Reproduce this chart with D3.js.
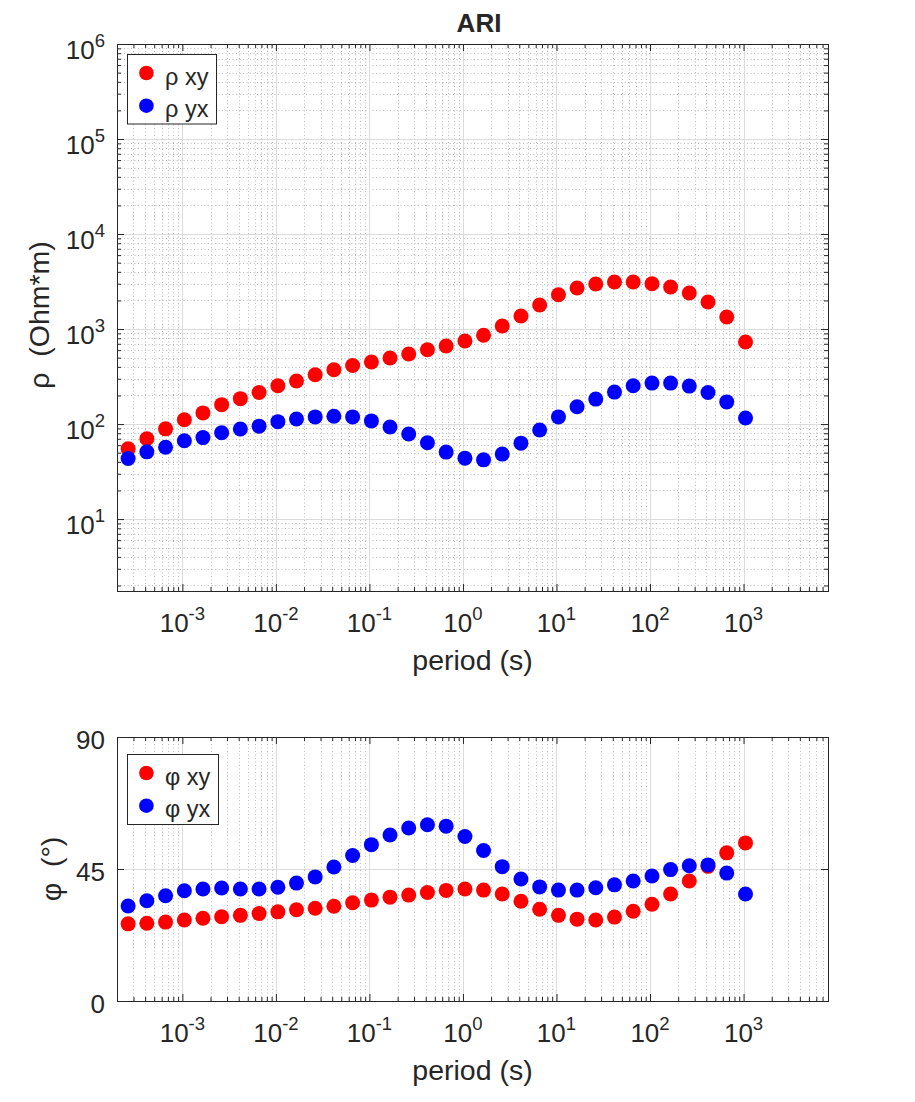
<!DOCTYPE html>
<html>
<head>
<meta charset="utf-8">
<script src="https://cdn.jsdelivr.net/npm/d3@7"></script>
<style>
  body { margin: 0; background: #fff; }
  text { font-family: "Liberation Sans", Arial, Helvetica, sans-serif; fill: #262626; }
</style>
</head>
<body>
<script>
/*Chart data*/
var periods = [2.63e-4, 4.17e-4, 6.61e-4, 1.05e-3, 1.66e-3, 2.63e-3, 4.17e-3, 6.61e-3,
    1.05e-2, 1.66e-2, 2.63e-2, 4.17e-2, 6.61e-2, 0.105, 0.166, 0.263, 0.417, 0.661,
    1.05, 1.66, 2.63, 4.17, 6.61, 10.5, 16.6, 26.3, 41.7, 66.1, 105, 166, 263, 417, 661, 1050];
var rhoXY = [55, 70, 89, 111, 131, 160, 185, 215, 253, 284, 330, 373, 414, 450, 496, 546, 605,
    662, 748, 860, 1076, 1370, 1790, 2297, 2700, 2980, 3126, 3126, 3000, 2768, 2394, 1923, 1338, 730];
var rhoYX = [43.4, 51, 57, 66.7, 72, 81, 88.6, 95, 106, 113, 119, 121, 119, 108, 93, 78.5, 63.6,
    50.7, 43.8, 42, 48.3, 63, 86.5, 119, 152, 183, 217, 253, 270, 270, 251, 215, 171, 116];
var phiXY = [26.3, 26.5, 26.9, 27.6, 28.2, 28.7, 29.2, 29.8, 30.4, 31.1, 31.6, 32.3, 33.5, 34.4,
    35.4, 36.1, 37.0, 37.7, 38.2, 37.8, 36.5, 34.0, 31.3, 29.2, 27.9, 27.6, 28.6, 30.6, 33.0, 36.5,
    40.9, 45.9, 50.5, 53.9];
var phiYX = [32.4, 34.2, 35.9, 37.6, 38.2, 38.5, 38.2, 38.2, 38.8, 40.2, 42.3, 45.7, 49.6, 53.3,
    56.6, 59.0, 60.1, 59.6, 56.1, 51.3, 45.8, 41.6, 38.9, 37.8, 37.8, 38.6, 39.6, 40.9, 42.6, 44.8,
    46.1, 46.4, 43.6, 36.5];

var xExponents = [-3, -2, -1, 0, 1, 2, 3];
var rhoExponents = [1, 2, 3, 4, 5, 6];
var phiTicks = [0, 45, 90];
var rhoNames = ["\u03c1 xy", "\u03c1 yx"];
var phiNames = ["\u03c6 xy", "\u03c6 yx"];
var colors = ["#ff0000", "#0000ff"];

var svg = d3.select("body").append("svg")
    .attr("width", 915)
    .attr("height", 1102);

var x = d3.scaleLog().domain([2e-4, 8e3]).range([117, 828]);
var yRho = d3.scaleLog().domain([1.75, 1e6]).range([591, 44]);
var yPhi = d3.scaleLinear().domain([0, 90]).range([1001, 737]);

/*minor tick values for a log scale: 2..9 times every decade inside the domain*/
function minorTicks(scale) {
    var dom = scale.domain(), out = [];
    for (var e = Math.floor(Math.log10(dom[0])); e <= Math.ceil(Math.log10(dom[1])); e++) {
        for (var m = 2; m <= 9; m++) {
            var v = m * Math.pow(10, e);
            if (v >= dom[0] && v <= dom[1]) out.push(v);
        }
    }
    return out;
}

function crisp(v) { return Math.round(v) + 0.5; }

/*draw one panel: grid, ticks, box, markers, legend*/
function drawPanel(y, yMajor, yMinor, series, names, legendBox) {
    var left = x.range()[0], right = x.range()[1];
    var bottom = y.range()[0], top = y.range()[1];
    var g = svg.append("g");
    var xMajor = xExponents.map(function(e) { return Math.pow(10, e) });
    var xMinor = minorTicks(x);

    /*minor grid (dotted)*/
    g.selectAll(".xmin").data(xMinor).enter().append("line")
        .attr("x1", function(d) { return crisp(x(d)) })
        .attr("x2", function(d) { return crisp(x(d)) })
        .attr("y1", top).attr("y2", bottom)
        .attr("stroke", "#bdbdbd").attr("stroke-dasharray", "1,2.5");
    g.selectAll(".ymin").data(yMinor).enter().append("line")
        .attr("y1", function(d) { return crisp(y(d)) })
        .attr("y2", function(d) { return crisp(y(d)) })
        .attr("x1", left).attr("x2", right)
        .attr("stroke", "#bdbdbd").attr("stroke-dasharray", "1,2.5");

    /*major grid*/
    g.selectAll(".xmaj").data(xMajor).enter().append("line")
        .attr("x1", function(d) { return crisp(x(d)) })
        .attr("x2", function(d) { return crisp(x(d)) })
        .attr("y1", top).attr("y2", bottom)
        .attr("stroke", "#dcdcdc");
    g.selectAll(".ymaj").data(yMajor).enter().append("line")
        .attr("y1", function(d) { return crisp(y(d)) })
        .attr("y2", function(d) { return crisp(y(d)) })
        .attr("x1", left).attr("x2", right)
        .attr("stroke", "#dcdcdc");

    /*inward ticks on all four sides*/
    var axes = [
        [d3.axisBottom(x), "translate(0," + bottom + ")", xMajor, xMinor],
        [d3.axisTop(x), "translate(0," + top + ")", xMajor, xMinor],
        [d3.axisLeft(y), "translate(" + left + ",0)", yMajor, yMinor],
        [d3.axisRight(y), "translate(" + right + ",0)", yMajor, yMinor]
    ];
    axes.forEach(function(a) {
        [[a[2], -7], [a[3], -4]].forEach(function(t) {
            if (!t[0].length) return;
            var ax = g.append("g").attr("transform", a[1])
                .call(a[0].tickValues(t[0]).tickSize(t[1]).tickSizeOuter(0).tickFormat(""));
            ax.select(".domain").remove();
            ax.selectAll("line").attr("stroke", "#262626");
        });
    });

    g.append("rect")
        .attr("x", left + 0.5).attr("y", top + 0.5)
        .attr("width", right - left).attr("height", bottom - top)
        .attr("fill", "none").attr("stroke", "#262626");

    /*markers*/
    series.forEach(function(vals, s) {
        g.selectAll(".pt" + s).data(vals).enter().append("circle")
            .attr("cx", function(d, i) { return x(periods[i]) })
            .attr("cy", function(d) { return y(d) })
            .attr("r", 7.5)
            .attr("fill", colors[s]);
    });

    /*x tick labels 10^n*/
    var lab = g.selectAll(".xlab").data(xExponents).enter().append("text")
        .attr("x", function(d) { return x(Math.pow(10, d)) })
        .attr("y", bottom + 41)
        .attr("text-anchor", "middle")
        .style("font-size", "26px");
    lab.append("tspan").text("10");
    lab.append("tspan").attr("dy", -12).style("font-size", "18.5px").text(function(d) { return d });

    /*legend*/
    g.append("rect")
        .attr("x", legendBox[0] + 0.5).attr("y", legendBox[1] + 0.5)
        .attr("width", legendBox[2]).attr("height", legendBox[3])
        .attr("fill", "#fff").attr("stroke", "#262626");
    names.forEach(function(n, s) {
        var cy = legendBox[1] + 19 + s * 32.7;
        g.append("circle").attr("cx", legendBox[0] + 19.4).attr("cy", cy).attr("r", 7.3).attr("fill", colors[s]);
        g.append("text").attr("x", legendBox[0] + 38).attr("y", cy + 11.5)
            .style("font-size", "23.5px").text(n);
    });

    /*x label*/
    g.append("text")
        .attr("x", (left + right) / 2).attr("y", bottom + 79)
        .attr("text-anchor", "middle")
        .style("font-size", "28.5px")
        .text("period (s)");
    return g;
}

var rhoPanel = drawPanel(yRho, rhoExponents.map(function(e) { return Math.pow(10, e) }), minorTicks(yRho),
    [rhoXY, rhoYX], rhoNames, [127, 54, 89, 69.5]);
var phiPanel = drawPanel(yPhi, phiTicks, [], [phiXY, phiYX], phiNames, [127, 754, 91, 70]);

/*y tick labels*/
var yl = rhoPanel.selectAll(".ylab").data(rhoExponents).enter().append("text")
    .attr("x", 105)
    .attr("y", function(d) { return yRho(Math.pow(10, d)) + 15 })
    .attr("text-anchor", "end")
    .style("font-size", "26px");
yl.append("tspan").text("10");
yl.append("tspan").attr("dy", -12).style("font-size", "18.5px").text(function(d) { return d });

phiPanel.selectAll(".ylab").data(phiTicks).enter().append("text")
    .attr("x", 105)
    .attr("y", function(d) { return yPhi(d) + 11.5 })
    .attr("text-anchor", "end")
    .style("font-size", "26px")
    .text(function(d) { return d });

/*y labels and title*/
svg.append("text")
    .attr("transform", "translate(49,315) rotate(-90)")
    .attr("text-anchor", "middle")
    .style("font-size", "28.5px")
    .style("white-space", "pre")
    .text("\u03c1  (Ohm*m)");
svg.append("text")
    .attr("transform", "translate(60.5,869) rotate(-90)")
    .attr("text-anchor", "middle")
    .style("font-size", "28.5px")
    .style("white-space", "pre")
    .text("\u03c6  (\u00b0)");
svg.append("text")
    .attr("x", 479).attr("y", 31.5)
    .attr("text-anchor", "middle")
    .style("font-size", "26px")
    .style("font-weight", "bold")
    .text("ARI");
</script>
</body>
</html>
